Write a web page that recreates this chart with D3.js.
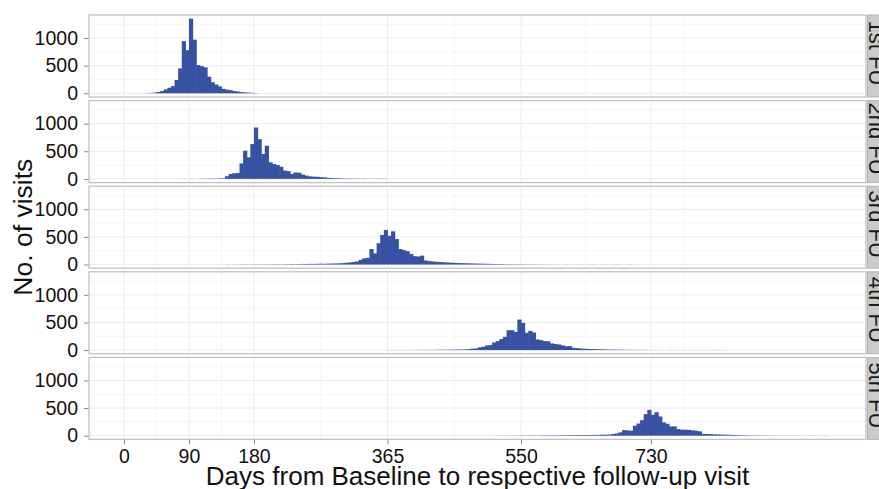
<!DOCTYPE html>
<html>
<head>
<meta charset="utf-8">
<script src="https://cdn.jsdelivr.net/npm/d3@7"></script>
<style>
  body { margin: 0; background: #fff; }
  text { font-family: "Liberation Sans", Arial, Helvetica, sans-serif; }
</style>
</head>
<body>
<svg id="chart" width="879" height="489"></svg>
<script>
// Histogram of visit timing per follow-up, 5-day bins

const panels = ['1st FU', '2nd FU', '3rd FU', '4th FU', '5th FU'];
const binWidth = 5;
const firstBin = [30, 80, 140, 365, 510];   // day of the first bin in each panel

const fu1 = [3, 6, 12, 25, 40, 70, 100, 130, 240, 450, 945, 780, 1350, 970, 510, 490, 470, 300, 200, 160,
  125, 80, 65, 55, 40, 32, 22, 16, 12, 8, 4];

const fu2 = [2, 0, 3, 0, 2, 4, 3, 5, 6, 5, 8, 10, 48, 90, 100, 105, 280, 510, 390, 630,
  930, 720, 450, 600, 300, 270, 250, 220, 150, 140, 90, 115, 110, 78, 60, 45, 40, 38, 30, 28,
  18, 15, 12, 10, 8, 6, 5, 5, 4, 3, 4, 2, 3, 2, 4, 3, 2];

const fu3 = [2, 0, 2, 1, 3, 2, 3, 2, 4, 3, 4, 3, 5, 4, 5, 4, 6, 5, 7, 6,
  8, 10, 9, 11, 10, 12, 14, 12, 15, 16, 18, 20, 24, 30, 36, 45, 54, 84, 110, 120,
  280, 200, 385, 535, 625, 520, 600, 460, 280, 260, 240, 190, 150, 145, 160, 72, 60, 55, 48, 45,
  40, 36, 32, 30, 26, 24, 22, 20, 18, 16, 15, 13, 12, 10, 9, 8, 7, 6, 6, 5,
  4, 5, 4, 3, 4, 3, 2, 3, 2, 2, 1, 2, 1, 0, 2, 1, 0, 1, 2, 0,
  1, 2, 1, 0, 2, 1, 0, 1, 2, 1, 0, 1, 2];

const fu4 = [2, 1, 2, 0, 2, 1, 2, 2, 3, 2, 3, 4, 3, 4, 5, 5, 6, 7, 8, 9,
  10, 12, 16, 24, 30, 48, 60, 84, 90, 138, 162, 200, 240, 360, 360, 330, 552, 492, 312, 348,
  320, 192, 180, 162, 160, 120, 110, 102, 84, 70, 72, 40, 36, 28, 24, 20, 18, 16, 14, 12,
  10, 9, 8, 7, 6, 5, 4, 4, 3, 3, 2, 2, 1, 2, 1, 1, 0, 1, 2, 0,
  1, 0, 1, 1, 0, 2, 0, 1, 0, 1, 2, 1, 0, 1];

const fu5 = [1, 2, 1, 2, 2, 3, 2, 3, 4, 3, 4, 5, 4, 5, 6, 6, 7, 7, 8, 8,
  9, 10, 10, 11, 12, 12, 12, 13, 14, 15, 18, 18, 20, 30, 40, 60, 100, 95, 90, 180,
  220, 280, 390, 468, 378, 426, 348, 240, 216, 168, 168, 120, 108, 108, 105, 96, 90, 78, 32, 30,
  28, 24, 22, 20, 18, 16, 14, 12, 10, 8, 7, 6, 5, 4, 4, 3, 3, 2, 2, 2,
  1, 2, 1, 1, 2, 1, 0, 1, 2, 1, 0, 1, 2];

const counts = [fu1, fu2, fu3, fu4, fu5];

const xTicks = [0, 90, 180, 365, 550, 730];
const xMinor = [-45, 45, 135, 272.5, 457.5, 640, 775];
const yTicks = [0, 500, 1000];
const yMinor = [250, 750, 1250];

const xTitle = 'Days from Baseline to respective follow-up visit';
const yTitle = 'No. of visits';

const svg = d3.select('#chart');

const plotLeft = 89, plotRight = 866;
const barColor = '#3852a3';
const font = '"Liberation Sans", Arial, sans-serif';

const x = d3.scaleLinear().domain([-48.5, 1028]).range([plotLeft, plotRight]);
const facet = d3.scaleBand().domain(panels).range([15, 439.4]).paddingInner(0.042);
const ph = facet.bandwidth();
const y = d3.scaleLinear().domain([-67.5, 1417.5]).range([ph, 0]);

panels.forEach((name, i) => {
  const g = svg.append('g').attr('transform', `translate(0,${facet(name)})`);

  g.append('rect')
    .attr('x', plotLeft).attr('y', 0)
    .attr('width', plotRight - plotLeft).attr('height', ph)
    .attr('fill', '#fff');

  // minor grid
  g.selectAll('.vminor').data(xMinor.filter(d => x(d) > plotLeft && x(d) < plotRight)).enter().append('line')
    .attr('x1', d => x(d)).attr('x2', d => x(d))
    .attr('y1', 0).attr('y2', ph)
    .attr('stroke', '#f6f6f6').attr('stroke-width', 1);
  g.selectAll('.hminor').data(yMinor).enter().append('line')
    .attr('x1', plotLeft).attr('x2', plotRight)
    .attr('y1', d => y(d)).attr('y2', d => y(d))
    .attr('stroke', '#f6f6f6').attr('stroke-width', 1);

  // major grid
  g.selectAll('.vmajor').data(xTicks).enter().append('line')
    .attr('x1', d => x(d)).attr('x2', d => x(d))
    .attr('y1', 0).attr('y2', ph)
    .attr('stroke', '#ececec').attr('stroke-width', 1);
  g.selectAll('.hmajor').data(yTicks).enter().append('line')
    .attr('x1', plotLeft).attr('x2', plotRight)
    .attr('y1', d => y(d)).attr('y2', d => y(d))
    .attr('stroke', '#ececec').attr('stroke-width', 1);

  // bars (slight overlap so neighbouring bins merge without seams)
  const bins = counts[i].map((c, k) => ({ start: firstBin[i] + k * binWidth, count: c }))
    .filter(d => d.count > 0);
  g.selectAll('.bar').data(bins).enter().append('rect')
    .attr('x', d => x(d.start))
    .attr('width', d => x(d.start + binWidth) - x(d.start) + 0.6)
    .attr('y', d => y(d.count))
    .attr('height', d => y(0) - y(d.count))
    .attr('fill', barColor);

  // panel border
  g.append('rect')
    .attr('x', plotLeft).attr('y', 0)
    .attr('width', plotRight - plotLeft).attr('height', ph)
    .attr('fill', 'none').attr('stroke', '#c2c2c2').attr('stroke-width', 1.3);

  // strip
  g.append('rect')
    .attr('x', plotRight + 1.5).attr('y', 0)
    .attr('width', 30).attr('height', ph)
    .attr('fill', '#cbcbcb').attr('stroke', '#b5b5b5').attr('stroke-width', 1);
  g.append('text')
    .attr('transform', `translate(869,${ph / 2 - 3}) rotate(90)`)
    .attr('text-anchor', 'middle')
    .attr('font-size', 22)
    .attr('fill', '#1a1a1a')
    .text(name);

  // y axis
  const yAxis = d3.axisLeft(y).tickValues(yTicks).tickSize(4.5).tickPadding(6).tickFormat(d3.format('d'));
  const ya = g.append('g').attr('transform', `translate(${plotLeft - 0.5},0)`).call(yAxis);
  ya.select('.domain').remove();
  ya.selectAll('line').attr('stroke', '#8a8a8a');
  ya.selectAll('text').attr('font-size', 19.5).attr('fill', '#111').style('font-family', font);
});

// x axis under the last panel
const bottom = facet(panels[panels.length - 1]) + ph;
const xAxis = d3.axisBottom(x).tickValues(xTicks).tickSize(4.5).tickPadding(5);
const xa = svg.append('g').attr('transform', `translate(0,${bottom + 0.5})`).call(xAxis);
xa.select('.domain').remove();
xa.selectAll('line').attr('stroke', '#8a8a8a');
xa.selectAll('text').attr('font-size', 19.5).attr('fill', '#111').style('font-family', font);

// titles
svg.append('text')
  .attr('x', (plotLeft + plotRight) / 2).attr('y', 485)
  .attr('text-anchor', 'middle')
  .attr('font-size', 26)
  .attr('fill', '#111')
  .text(xTitle);

svg.append('text')
  .attr('transform', `translate(32,${(15 + bottom) / 2}) rotate(-90)`)
  .attr('text-anchor', 'middle')
  .attr('font-size', 26.5)
  .attr('fill', '#111')
  .text(yTitle);
</script>
</body>
</html>
